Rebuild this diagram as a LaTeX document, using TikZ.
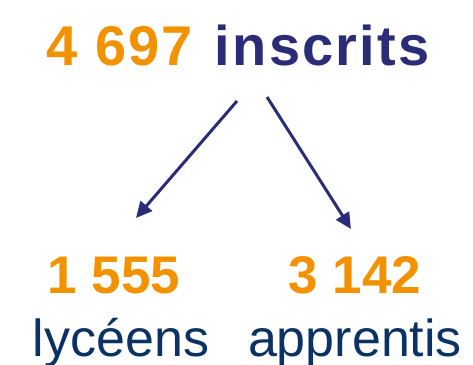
\documentclass[tikz,border=0pt]{standalone}
\usepackage{fontspec}
\setmainfont{Liberation Sans}
\newfontfamily\titlefont[LetterSpace=4]{Liberation Sans}
\usetikzlibrary{arrows.meta}
\definecolor{orng}{HTML}{F39200}
\definecolor{navy}{HTML}{2B2C77}
\definecolor{dblue}{HTML}{0A3264}
\tikzset{
  lbl/.style={inner sep=0pt, anchor=base},
  arr/.style={navy, line width=3pt, -{Triangle[length=16pt,width=15pt]}}
}
\begin{document}
\begin{tikzpicture}[x=1pt,y=1pt]
\useasboundingbox (0,0) rectangle (473,364);
\node[lbl] (title) at (238,298) {\titlefont\fontsize{56}{60}\selectfont\bfseries\textcolor{orng}{4 697}\hspace{4pt} \textcolor{navy}{inscrits}};
\node[lbl, orng] (n1) at (114,71) {\fontsize{53}{58}\selectfont\bfseries 1 555};
\node[lbl, orng] (n2) at (355,71) {\fontsize{53}{58}\selectfont\bfseries 3 142};
\node[lbl, dblue] (w1) at (121,8) {\fontsize{52}{56}\selectfont lycéens};
\node[lbl, dblue] (w2) at (355,8) {\fontsize{52}{56}\selectfont apprentis};
\coordinate (s1) at (237,263);
\coordinate (e1) at (136,146);
\coordinate (s2) at (267,267);
\coordinate (e2) at (351,135);
\draw[arr] (s1) -- (e1);
\draw[arr] (s2) -- (e2);
\end{tikzpicture}
\end{document}
